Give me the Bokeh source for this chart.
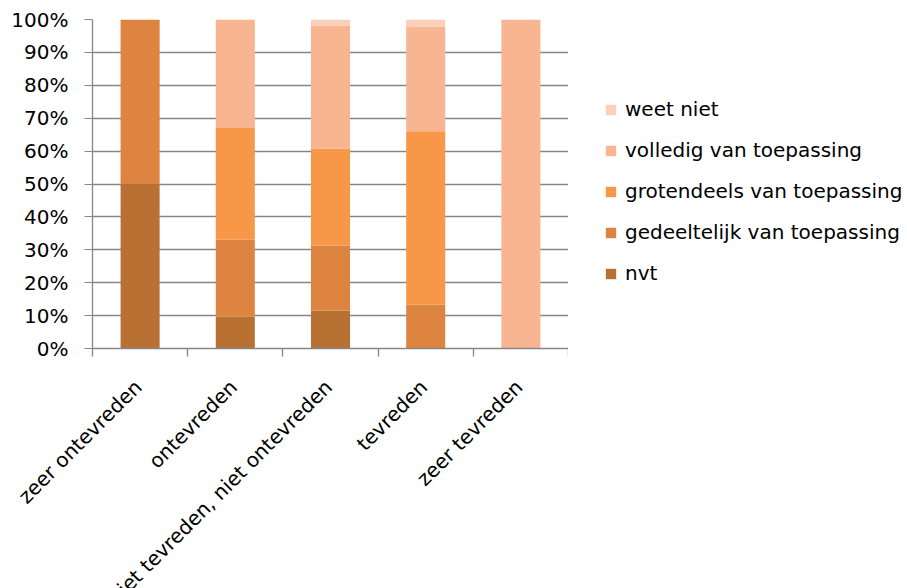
from math import pi

from bokeh.embed import file_html
from bokeh.layouts import row
from bokeh.models import ColumnDataSource, FixedTicker, Legend, NumeralTickFormatter, Range1d
from bokeh.plotting import figure
from bokeh.resources import INLINE

# Satisfaction groups on the x axis
categories = [
    "zeer ontevreden",
    "ontevreden",
    "niet tevreden, niet ontevreden",
    "tevreden",
    "zeer tevreden",
]

# Share of answers per group (fractions of 1)
nvt = [0.50, 0.097, 0.115, 0.0, 0.0]
gedeeltelijk = [0.50, 0.234, 0.198, 0.134, 0.0]
grotendeels = [0.0, 0.339, 0.295, 0.526, 0.0]
volledig = [0.0, 0.330, 0.374, 0.319, 1.0]
weet_niet = [0.0, 0.0, 0.018, 0.021, 0.0]

series = ["nvt", "gedeeltelijk", "grotendeels", "volledig", "weet_niet"]
series_labels = [
    "nvt",
    "gedeeltelijk van toepassing",
    "grotendeels van toepassing",
    "volledig van toepassing",
    "weet niet",
]
colors = ["#B97133", "#DC8440", "#F79747", "#F8B592", "#FBCFB8"]

FONT = "DejaVu Sans"
FONT_SIZE = "20px"
GRID = "#868686"

centers = [i + 0.5 for i in range(len(categories))]
source = ColumnDataSource(dict(
    x=centers,
    nvt=nvt,
    gedeeltelijk=gedeeltelijk,
    grotendeels=grotendeels,
    volledig=volledig,
    weet_niet=weet_niet,
))

# ---- bar chart --------------------------------------------------------
p = figure(
    frame_width=476,
    frame_height=329,
    x_range=Range1d(0, len(categories)),
    y_range=Range1d(0, 1),
    output_backend="svg",
    toolbar_location=None,
    min_border_left=92,
    min_border_right=0,
    min_border_top=19,
    min_border_bottom=0,
)
p.outline_line_color = None
p.background_fill_color = "white"
p.border_fill_color = "white"

p.vbar_stack(
    series,
    x="x",
    width=0.41,
    color=colors,
    line_color=None,
    source=source,
)

# Horizontal grid only
p.xgrid.grid_line_color = None
p.ygrid.grid_line_color = GRID
p.ygrid.grid_line_width = 1.3

# Y axis: percentages
p.yaxis.ticker = FixedTicker(ticks=[i / 10 for i in range(11)])
p.yaxis.formatter = NumeralTickFormatter(format="0%")
p.yaxis.axis_line_color = GRID
p.yaxis.axis_line_width = 1.3
p.yaxis.major_tick_line_color = GRID
p.yaxis.major_tick_in = 0
p.yaxis.major_tick_out = 8
p.yaxis.minor_tick_line_color = None
p.yaxis.major_label_text_font = FONT
p.yaxis.major_label_text_font_size = FONT_SIZE
p.yaxis.major_label_text_color = "#000000"
p.yaxis.major_label_standoff = 16

# X axis: slanted labels ending near each bar centre, tick marks at group boundaries
label_pos = [c - 0.02 for c in centers]
p.xaxis.ticker = FixedTicker(ticks=label_pos, minor_ticks=list(range(len(categories) + 1)))
p.xaxis.major_label_overrides = {t: name for t, name in zip(label_pos, categories)}
p.xaxis.major_tick_line_color = None
p.xaxis.minor_tick_line_color = GRID
p.xaxis.minor_tick_line_width = 1.3
p.xaxis.minor_tick_in = 0
p.xaxis.minor_tick_out = 8
p.xaxis.axis_line_color = GRID
p.xaxis.axis_line_width = 1.3
p.xaxis.major_label_orientation = pi / 4
p.xaxis.major_label_text_font = FONT
p.xaxis.major_label_text_font_size = FONT_SIZE
p.xaxis.major_label_text_color = "#000000"
p.xaxis.major_label_standoff = 27

# ---- legend panel (frame aligned with the bar chart's frame) ----------
lf = figure(
    frame_width=339,
    frame_height=329,
    x_range=Range1d(0, 1),
    y_range=Range1d(0, 1),
    output_backend="svg",
    toolbar_location=None,
    min_border=0,
)
lf.axis.visible = False
lf.grid.grid_line_color = None
lf.outline_line_color = None
lf.background_fill_color = "white"
lf.border_fill_color = "white"

# hidden copies of the stacks, used only as legend swatches
swatches = lf.vbar_stack(
    series,
    x="x",
    width=0.41,
    color=colors,
    line_color=None,
    source=source,
)
for r in swatches:
    r.visible = False

legend = Legend(
    items=[(lbl, [r]) for lbl, r in reversed(list(zip(series_labels, swatches)))],
    location=(36, 44),
    glyph_width=13,
    glyph_height=13,
    label_height=20,
    spacing=17,
    padding=0,
    margin=0,
    label_standoff=8,
    label_text_font=FONT,
    label_text_font_size=FONT_SIZE,
    label_text_color="#000000",
    inactive_fill_alpha=0,
    border_line_color=None,
    background_fill_alpha=0,
)
lf.add_layout(legend, "center")

layout = row(p, lf)
open("out.html", "w").write(file_html(layout, INLINE))
